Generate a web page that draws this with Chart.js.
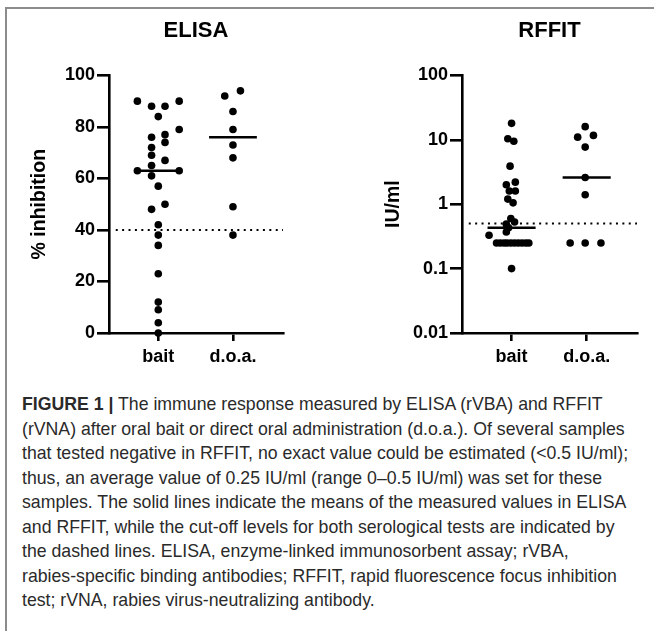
<!DOCTYPE html>
<html lang="en">
<head>
<meta charset="UTF-8">
<title>Figure 1 - ELISA and RFFIT</title>
<script src="https://cdn.jsdelivr.net/npm/chart.js"></script>
<style>
  body { margin: 0; background: #fff; }
  #figure { position: relative; width: 654px; height: 631px; overflow: hidden; font-family: "Liberation Sans", Arial, sans-serif; }
  #frame { position: absolute; left: 5px; top: 7px; width: 700px; height: 700px; border-left: 2px solid #8c8c8c; border-top: 2px solid #8c8c8c; }
  canvas { position: absolute; top: 0; }
  #elisaChart { left: 0; }
  #rffitChart { left: 327px; }
  #caption { position: absolute; left: 22px; top: 392px; font-size: 17.7px; line-height: 24.5px; color: #2a2a2a; white-space: nowrap; }
</style>
</head>
<body>
<div id="figure">
  <div id="frame"></div>
  <canvas id="elisaChart" width="327" height="380"></canvas>
  <canvas id="rffitChart" width="327" height="380"></canvas>
  <div id="caption">
    <b>FIGURE 1 |</b> The immune response measured by ELISA (rVBA) and RFFIT<br>
    (rVNA) after oral bait or direct oral administration (d.o.a.). Of several samples<br>
    that tested negative in RFFIT, no exact value could be estimated (&lt;0.5 IU/ml);<br>
    thus, an average value of 0.25 IU/ml (range 0–0.5 IU/ml) was set for these<br>
    samples. The solid lines indicate the means of the measured values in ELISA<br>
    and RFFIT, while the cut-off levels for both serological tests are indicated by<br>
    the dashed lines. ELISA, enzyme-linked immunosorbent assay; rVBA,<br>
    rabies-specific binding antibodies; RFFIT, rapid fluorescence focus inhibition<br>
    test; rVNA, rabies virus-neutralizing antibody.
  </div>
</div>

<script>
  // categories sit at x = 1 and x = 2, jitter is the sideways spread of each dot
  const categories = ["bait", "d.o.a."];

  const elisaBait = [90, 90, 88, 88, 84, 79, 77, 76, 74, 72, 69, 67, 65, 63, 63, 61, 57, 50, 48, 42, 38, 34, 23, 12, 9, 4, 0];
  const elisaBaitJitter = [-0.28, 0.28, -0.09, 0.09, 0, 0.28, 0.09, -0.09, 0.09, -0.09, -0.09, 0.09, -0.09, -0.28, 0.28, -0.09, 0, 0.09, -0.09, 0, 0, 0, 0, 0, 0, 0, 0];
  const elisaDoa = [94, 92, 86, 79, 73, 68, 49, 38];
  const elisaDoaJitter = [0.10, -0.11, 0, 0, 0, 0, 0, 0];
  const elisaMedians = [63, 76];
  const elisaCutoff = 40;
  const elisaTicks = [0, 20, 40, 60, 80, 100];

  const rffitBait = [18, 10.4, 9.5, 3.9, 2.2, 2.0, 1.6, 1.6, 1.2, 1.05, 0.6, 0.53, 0.49, 0.43, 0.37, 0.33,
                     0.25, 0.25, 0.25, 0.25, 0.25, 0.25, 0.25, 0.25, 0.25, 0.25, 0.1];
  const rffitBaitJitter = [0, -0.05, 0.03, -0.02, 0.05, -0.07, -0.03, 0.05, -0.05, 0.02, -0.01, 0.04, -0.07, -0.04, -0.07, -0.30,
                           -0.20, -0.15, -0.10, -0.06, -0.01, 0.04, 0.09, 0.14, 0.19, 0.23, 0];
  const rffitDoa = [16, 11.7, 11, 7.7, 2.6, 1.4, 0.25, 0.25, 0.25];
  const rffitDoaJitter = [-0.02, 0.09, -0.12, -0.02, -0.02, -0.02, -0.22, -0.02, 0.19];
  const rffitMedians = [0.43, 2.6];
  const rffitCutoff = 0.5;
  const rffitTicks = [0.01, 0.1, 1, 10, 100];

  const X_MIN = 0.34, X_MAX = 2.67;
  const MEDIAN_HALF = 0.32;
  const CUTOFF_START = 0.43;
  const BOLD = "'Liberation Sans', Arial, sans-serif";

  function dots(values, jitter, cat) {
    return values.map((v, i) => ({ x: cat + jitter[i], y: v }));
  }

  function dotSet(data) {
    return { data: data, pointRadius: 3.8, pointBackgroundColor: "#000", pointBorderWidth: 0, showLine: false, clip: false };
  }

  function lineSet(data, dash) {
    return { data: data, showLine: true, pointRadius: 0, borderColor: "#000", borderWidth: dash ? 2 : 2.6, borderDash: dash || [], clip: false };
  }

  function buildChart(id, opts) {
    let datasets = [
      dotSet(dots(opts.bait, opts.baitJitter, 1)),
      dotSet(dots(opts.doa, opts.doaJitter, 2)),
      lineSet([{ x: 1 - MEDIAN_HALF, y: opts.medians[0] }, { x: 1 + MEDIAN_HALF, y: opts.medians[0] }]),
      lineSet([{ x: 2 - MEDIAN_HALF, y: opts.medians[1] }, { x: 2 + MEDIAN_HALF, y: opts.medians[1] }]),
      lineSet([{ x: CUTOFF_START, y: opts.cutoff }, { x: X_MAX, y: opts.cutoff }], [2, 4.4])
    ];

    let yScale = {
      type: opts.log ? "logarithmic" : "linear",
      min: opts.ticks[0],
      max: opts.ticks[opts.ticks.length - 1],
      afterBuildTicks: s => { s.ticks = opts.ticks.map(v => ({ value: v })); },
      afterFit: s => { s.width = opts.axisWidth; },
      ticks: {
        color: "#000", padding: 2,
        font: { family: BOLD, size: 18, weight: "bold" },
        callback: v => String(v)
      },
      grid: { drawOnChartArea: false, color: "#000", lineWidth: 2.6, tickLength: 12 },
      border: { color: "#000", width: 2.6 },
      title: {
        display: true, text: opts.yTitle, color: "#000",
        font: { family: BOLD, size: 19.5, weight: "bold" },
        padding: { top: opts.titleOffset, bottom: 0 }
      }
    };

    new Chart(document.getElementById(id), {
      type: "scatter",
      data: { datasets: datasets },
      options: {
        responsive: false,
        animation: false,
        layout: { padding: { left: 0, right: opts.padRight, top: 0, bottom: 0 } },
        plugins: {
          legend: { display: false },
          tooltip: { enabled: false },
          title: {
            display: true, text: opts.title, color: "#000", fullSize: false,
            font: { family: BOLD, size: 22, weight: "bold" },
            padding: { top: 18, bottom: 31 }
          }
        },
        scales: {
          x: {
            type: "linear", min: X_MIN, max: X_MAX,
            afterBuildTicks: s => { s.ticks = [{ value: 1 }, { value: 2 }]; },
            afterFit: s => { s.height = 47; },
            ticks: {
              color: "#000", padding: 5, maxRotation: 0,
              font: { family: BOLD, size: 18, weight: "bold" },
              callback: v => categories[v - 1]
            },
            grid: { drawOnChartArea: false, color: "#000", lineWidth: 2.6, tickLength: 8 },
            border: { color: "#000", width: 2.6 }
          },
          y: yScale
        }
      }
    });
  }

  buildChart("elisaChart", {
    title: "ELISA", yTitle: "% inhibition", log: false,
    bait: elisaBait, baitJitter: elisaBaitJitter, doa: elisaDoa, doaJitter: elisaDoaJitter,
    medians: elisaMedians, cutoff: elisaCutoff, ticks: elisaTicks,
    axisWidth: 109, padRight: 44, titleOffset: 28
  });

  buildChart("rffitChart", {
    title: "RFFIT", yTitle: "IU/ml", log: true,
    bait: rffitBait, baitJitter: rffitBaitJitter, doa: rffitDoa, doaJitter: rffitDoaJitter,
    medians: rffitMedians, cutoff: rffitCutoff, ticks: rffitTicks,
    axisWidth: 135, padRight: 17, titleOffset: 55
  });
</script>
</body>
</html>
